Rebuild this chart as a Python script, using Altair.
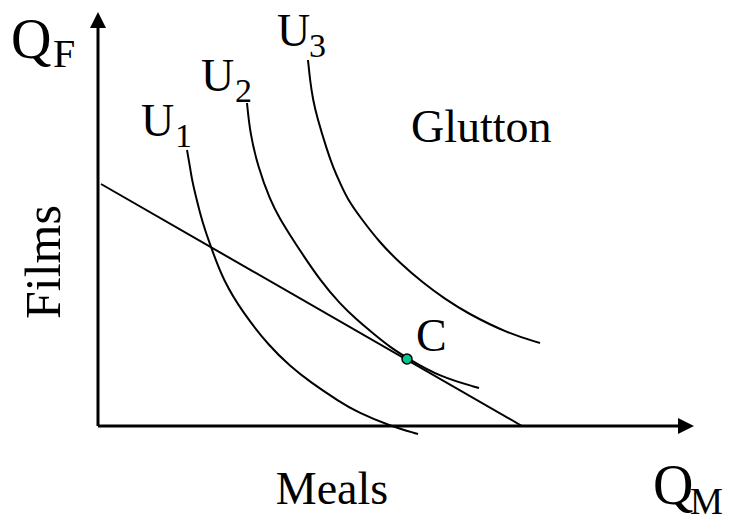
import altair as alt
import pandas as pd

# Quantities of meals (x) and films (y), origin at the axis corner.
u1_x = [89, 92, 94, 98, 102, 107, 113, 125, 145, 172, 192, 212, 242, 259, 292, 320]
u1_y = [276, 259, 246, 229, 213, 196, 179, 146, 113, 79, 60, 44, 24, 14, 0, -8]

u2_x = [149, 152, 160, 172, 182, 192, 205, 222, 242, 259, 277, 292, 309, 342, 381]
u2_y = [323, 293, 259, 226, 207, 191, 171, 146, 122, 106, 91, 79, 68, 49, 38]

u3_x = [210, 212, 215, 219, 229, 235, 242, 250, 262, 282, 302, 325, 347, 369, 409, 442]
u3_y = [366, 346, 326, 309, 276, 259, 243, 226, 209, 183, 163, 143, 127, 113, 93, 83]

budget_x = [3, 424]
budget_y = [242, 0]

optimum_x = [309]
optimum_y = [67]

# Axis extents (up to the arrowhead bases) and arrowhead centres
axis_x0 = [0, 0]
axis_y0 = [0, 0]
axis_x1 = [0, 581]
axis_y1 = [398, 0]
head_x = [0, 588]
head_y = [406, 0]
head_shape = ["M0,-1L1,1L-1,1Z", "M1,0L-1,1L-1,-1Z"]

# Labels
label_text = ["Q", "F", "U", "1", "U", "2", "U", "3", "Glutton", "C", "Q", "M"]
label_x = [-87, -45, 43, 77, 103, 137, 179, 211, 313, 318, 555, 592]
label_y = [368, 359, 290, 279, 335, 324, 380, 369, 284, 75, -78, -88]
label_size = [56, 40, 46, 34, 46, 34, 46, 34, 46, 46, 56, 37]

title_text = ["Meals", "Films"]
title_x = [234, -38]
title_y = [-78, 164]
title_angle = [0, 270]
title_size = [46, 50]

X_DOMAIN = [-98, 638]
Y_DOMAIN = [-96, 426]
FONT = "Liberation Serif"

xs = alt.Scale(domain=X_DOMAIN, nice=False, zero=False)
ys = alt.Scale(domain=Y_DOMAIN, nice=False, zero=False)


def series(name, xv, yv):
    return pd.DataFrame({"series": name, "x": xv, "y": yv, "i": range(len(xv))})


curves = pd.concat([
    series("U1", u1_x, u1_y),
    series("U2", u2_x, u2_y),
    series("U3", u3_x, u3_y),
])

curve_layer = alt.Chart(curves).mark_line(
    color="black", strokeWidth=2, interpolate="basis"
).encode(
    x=alt.X("x:Q", scale=xs, axis=None),
    y=alt.Y("y:Q", scale=ys, axis=None),
    detail="series:N",
    order="i:Q",
)

budget_layer = alt.Chart(pd.DataFrame({"x": budget_x, "y": budget_y})).mark_line(
    color="black", strokeWidth=2
).encode(
    x=alt.X("x:Q", scale=xs, axis=None),
    y=alt.Y("y:Q", scale=ys, axis=None),
)

axes_df = pd.DataFrame({"x": axis_x0, "y": axis_y0, "x2": axis_x1, "y2": axis_y1})
axes_layer = alt.Chart(axes_df).mark_rule(color="black", strokeWidth=3).encode(
    x=alt.X("x:Q", scale=xs, axis=None),
    y=alt.Y("y:Q", scale=ys, axis=None),
    x2="x2:Q",
    y2="y2:Q",
)

heads = []
for hx, hy, shp in zip(head_x, head_y, head_shape):
    heads.append(
        alt.Chart(pd.DataFrame({"x": [hx], "y": [hy]}))
        .mark_point(shape=shp, filled=True, color="black", size=256, opacity=1)
        .encode(x=alt.X("x:Q", scale=xs, axis=None), y=alt.Y("y:Q", scale=ys, axis=None))
    )

point_layer = alt.Chart(pd.DataFrame({"x": optimum_x, "y": optimum_y})).mark_point(
    shape="circle", filled=True, fill="#00C78C", stroke="black", strokeWidth=1.5,
    size=100, opacity=1,
).encode(x=alt.X("x:Q", scale=xs, axis=None), y=alt.Y("y:Q", scale=ys, axis=None))

labels = pd.DataFrame({"t": label_text, "x": label_x, "y": label_y, "s": label_size})
label_layer = alt.Chart(labels).mark_text(
    font=FONT, align="left", baseline="alphabetic", color="black"
).encode(
    x=alt.X("x:Q", scale=xs, axis=None),
    y=alt.Y("y:Q", scale=ys, axis=None),
    text="t:N",
    size=alt.Size("s:Q", scale=None),
)

titles = pd.DataFrame({"t": title_text, "x": title_x, "y": title_y,
                       "a": title_angle, "s": title_size})
title_layer = alt.Chart(titles).mark_text(
    font=FONT, align="center", baseline="alphabetic", color="black"
).encode(
    x=alt.X("x:Q", scale=xs, axis=None),
    y=alt.Y("y:Q", scale=ys, axis=None),
    text="t:N",
    size=alt.Size("s:Q", scale=None),
    angle=alt.Angle("a:Q", scale=None),
)

chart = alt.layer(
    curve_layer, budget_layer, axes_layer, *heads, point_layer, label_layer, title_layer
).properties(
    width=736, height=522, padding=0, autosize="none", background="white"
).configure_view(stroke=None)

chart.save("out.html", embed_options={"renderer": "svg", "actions": False})
